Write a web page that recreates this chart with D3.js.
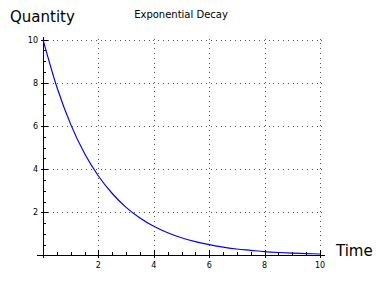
<!DOCTYPE html>
<html>
<head>
<meta charset="utf-8">
<script src="https://cdn.jsdelivr.net/npm/d3@7"></script>
<style>
  body { margin: 0; background: #fff; }
  text { font-family: "DejaVu Sans", sans-serif; fill: #000; }
</style>
</head>
<body>
<div id="root"></div>
<script>
const width = 384;
const height = 281;

// values
const times = [0, 0.5, 1, 1.5, 2, 2.5, 3, 3.5, 4, 4.5, 5, 5.5, 6, 6.5, 7, 7.5, 8, 8.5, 9, 9.5, 10];
const quantity = [10, 7.8, 6.07, 4.72, 3.68, 2.87, 2.23, 1.74, 1.35, 1.05, 0.82, 0.64, 0.5, 0.39, 0.3, 0.24, 0.18, 0.14, 0.11, 0.09, 0.07];
const xTicks = [2, 4, 6, 8, 10];
const yTicks = [2, 4, 6, 8, 10];
const xMinor = d3.range(0.5, 10.01, 0.5);
const yMinor = d3.range(0.5, 10.01, 0.5);

const x = d3.scaleLinear().domain([0, 10]).range([43, 320]);
const y = d3.scaleLinear().domain([0, 10]).range([255.5, 39.5]);

const svg = d3.select("#root").append("svg")
  .attr("width", width).attr("height", height);

// grid
const grid = svg.append("g")
  .attr("stroke", "#555")
  .attr("stroke-width", 1)
  .attr("stroke-dasharray", "1,3.8")
  .attr("shape-rendering", "crispEdges");
grid.selectAll(".gx").data(xTicks).join("line")
  .attr("x1", d => Math.round(x(d)) + 0.5).attr("x2", d => Math.round(x(d)) + 0.5)
  .attr("y1", y(0)).attr("y2", y(10) - 1.5);
grid.selectAll(".gy").data(yTicks).join("line")
  .attr("y1", d => Math.round(y(d)) + 0.5).attr("y2", d => Math.round(y(d)) + 0.5)
  .attr("x1", x(0)).attr("x2", x(10) + 2);

// axes
const axes = svg.append("g").attr("stroke", "#000").attr("shape-rendering", "crispEdges");
axes.append("line").attr("x1", 37).attr("x2", 325).attr("y1", 255.5).attr("y2", 255.5);
axes.append("line").attr("x1", 43.5).attr("x2", 43.5).attr("y1", 258).attr("y2", 37);

axes.selectAll(".xm").data(xMinor).join("line")
  .attr("x1", d => Math.round(x(d)) + 0.5).attr("x2", d => Math.round(x(d)) + 0.5)
  .attr("y1", 255).attr("y2", d => xTicks.includes(d) ? 250 : 252);
axes.selectAll(".xM").data(xTicks).join("line")
  .attr("x1", d => Math.round(x(d)) + 0.5).attr("x2", d => Math.round(x(d)) + 0.5)
  .attr("y1", 256).attr("y2", 258);
axes.selectAll(".ym").data(yMinor).join("line")
  .attr("y1", d => Math.round(y(d)) + 0.5).attr("y2", d => Math.round(y(d)) + 0.5)
  .attr("x1", 44).attr("x2", d => yTicks.includes(d) ? 48 : 46);
axes.selectAll(".yM").data(yTicks).join("line")
  .attr("y1", d => Math.round(y(d)) + 0.5).attr("y2", d => Math.round(y(d)) + 0.5)
  .attr("x1", 41).attr("x2", 43);

// tick labels
svg.selectAll(".xl").data(xTicks).join("text")
  .attr("x", d => x(d)).attr("y", 268)
  .attr("text-anchor", "middle")
  .style("font-size", "8px")
  .text(d => d);
svg.selectAll(".yl").data(yTicks).join("text")
  .attr("x", 38).attr("y", d => y(d) + 3)
  .attr("text-anchor", "end")
  .style("font-size", "8px")
  .text(d => d);

// curve
const line = d3.line()
  .x((d, i) => x(times[i]))
  .y(d => y(d))
  .curve(d3.curveMonotoneX);
svg.append("path")
  .attr("d", line(quantity))
  .attr("fill", "none")
  .attr("stroke", "#0000ff")
  .attr("stroke-width", 1.2);

// labels
svg.append("text").attr("x", 10).attr("y", 22).style("font-size", "15px").text("Quantity");
svg.append("text").attr("x", 336).attr("y", 256).style("font-size", "15px").text("Time");
svg.append("text").attr("x", 181).attr("y", 18).attr("text-anchor", "middle")
  .style("font-size", "10px").text("Exponential Decay");
</script>
</body>
</html>
